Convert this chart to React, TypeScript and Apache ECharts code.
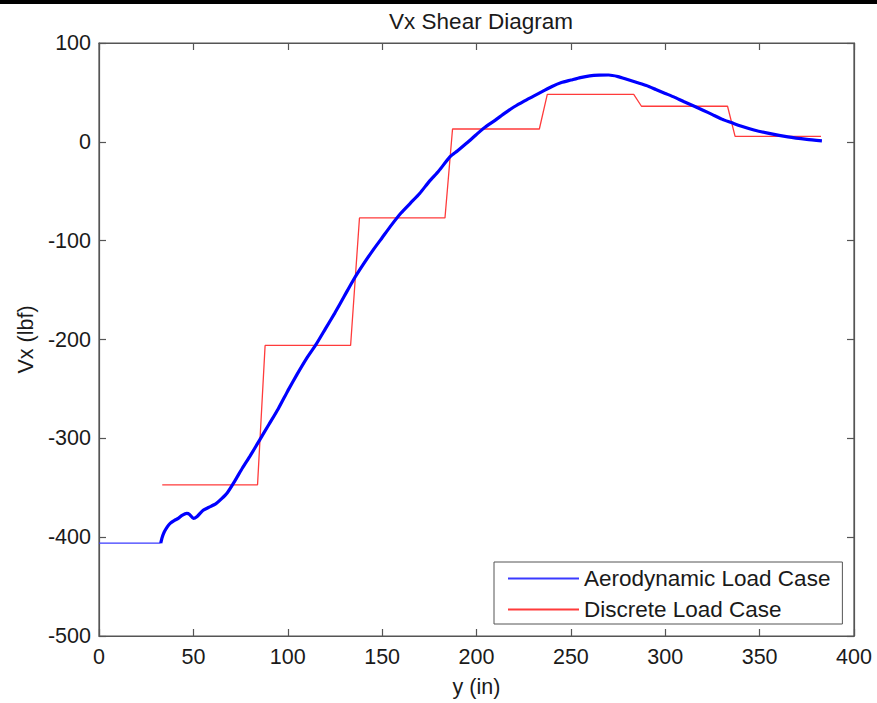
import React, { useEffect, useRef } from "react";
import * as echarts from "echarts";

const titleText = "Vx Shear Diagram";
const xAxisName = "y (in)";
const yAxisName = "Vx (lbf)";
const xTickValues = [0, 50, 100, 150, 200, 250, 300, 350, 400];
const yTickValues = [-500, -400, -300, -200, -100, 0, 100];

const aeroName = "Aerodynamic Load Case";
const discreteName = "Discrete Load Case";

// flat root segment of the aerodynamic curve
const aeroFlat: [number, number][] = [
  [0, -406],
  [32.7, -406],
];

// aerodynamic load case shear curve
const aeroCurve: [number, number][] = [
  [32.7, -406], [33.5, -400], [34.5, -395], [36, -390], [37.7, -386],
  [40, -383], [42, -381], [44, -378], [46.5, -376], [48, -377],
  [50, -381], [52, -379], [55, -373], [58, -370], [62, -366],
  [65, -361], [68, -355], [72, -343], [76, -330], [80, -318],
  [85, -302], [90, -286], [95, -270], [100, -252], [105, -235],
  [110, -219], [115, -205], [120, -189], [125, -173], [130, -156],
  [135, -139], [140, -124], [145, -110], [150, -97], [155, -84],
  [160, -72], [165, -62], [170, -52], [175, -40], [180, -29.5],
  [186, -15], [190, -9], [195, -1], [200, 7.5], [204, 14],
  [210, 22], [215, 29], [220, 35.5], [225, 41], [230, 46],
  [235, 51], [240, 56], [245, 60], [250, 62.5], [255, 65],
  [260, 66.8], [265, 67.5], [270, 67.6], [275, 66], [280, 63],
  [285, 60], [290, 57], [295, 53], [300, 49], [305, 45],
  [310, 40.5], [316, 35.5], [320, 32], [325, 27.5], [330, 23],
  [335, 19.5], [340, 16], [347, 12], [355, 8.5], [365, 5],
  [375, 2.5], [383, 1],
];

// discrete (stepped) load case
const discreteSteps: [number, number][] = [
  [33.5, -347], [84, -347], [88, -206], [133.3, -206], [138, -77],
  [183.3, -77], [187.3, 13], [233.3, 13], [237.5, 48], [283.3, 48],
  [287.4, 36], [333, 36], [337, 5.5], [382.5, 5.5],
];

const FONT = "'Liberation Sans', Arial, Helvetica, sans-serif";
const AXIS_COLOR = "#555555";
const TEXT_COLOR = "#1a1a1a";

export default function App() {
  const ref = useRef<HTMLDivElement>(null);

  useEffect(() => {
    if (!ref.current) return;
    const chart = echarts.init(ref.current, undefined, { renderer: "svg" });

    const xMin = xTickValues[0];
    const xMax = xTickValues[xTickValues.length - 1];
    const xInt = xTickValues[1] - xTickValues[0];
    const yMin = yTickValues[0];
    const yMax = yTickValues[yTickValues.length - 1];
    const yInt = yTickValues[1] - yTickValues[0];

    const baseX = {
      type: "value" as const,
      min: xMin,
      max: xMax,
      interval: xInt,
      splitLine: { show: false },
      axisLine: { show: true, onZero: false, lineStyle: { color: AXIS_COLOR, width: 1.2 } },
      axisTick: { show: true, inside: true, length: 7, lineStyle: { color: AXIS_COLOR, width: 1.2 } },
    };
    const baseY = {
      type: "value" as const,
      min: yMin,
      max: yMax,
      interval: yInt,
      splitLine: { show: false },
      axisLine: { show: true, onZero: false, lineStyle: { color: AXIS_COLOR, width: 1.2 } },
      axisTick: { show: true, inside: true, length: 7, lineStyle: { color: AXIS_COLOR, width: 1.2 } },
    };

    chart.setOption({
      animation: false,
      backgroundColor: "#ffffff",
      title: {
        text: titleText,
        left: 476,
        textAlign: "center",
        top: 5,
        textStyle: { fontSize: 22.5, fontWeight: "normal", color: TEXT_COLOR, fontFamily: FONT },
      },
      graphic: [
        {
          type: "rect",
          shape: { x: 0, y: 0, width: 877, height: 4 },
          style: { fill: "#000000" },
          silent: true,
        },
      ],
      grid: {
        left: 99,
        right: 23,
        top: 43,
        bottom: 67,
        show: true,
        borderColor: AXIS_COLOR,
        borderWidth: 1.2,
        backgroundColor: "#ffffff",
      },
      legend: {
        orient: "vertical",
        left: 494,
        top: 562,
        data: [aeroName, discreteName],
        itemWidth: 71,
        itemHeight: 14,
        itemGap: 8,
        padding: [5, 12, 3, 13],
        borderColor: AXIS_COLOR,
        borderWidth: 1,
        backgroundColor: "#ffffff",
        itemStyle: { opacity: 0 },
        textStyle: { fontSize: 22.5, color: TEXT_COLOR, fontFamily: FONT },
      },
      xAxis: [
        {
          ...baseX,
          position: "bottom",
          name: xAxisName,
          nameLocation: "middle",
          nameGap: 40,
          nameTextStyle: { fontSize: 21.5, color: TEXT_COLOR, fontFamily: FONT },
          axisLabel: { show: true, margin: 10, fontSize: 21.5, color: TEXT_COLOR, fontFamily: FONT },
        },
        {
          ...baseX,
          position: "top",
          axisLabel: { show: false },
        },
      ],
      yAxis: [
        {
          ...baseY,
          position: "left",
          name: yAxisName,
          nameLocation: "middle",
          nameGap: 62,
          nameTextStyle: { fontSize: 21.5, color: TEXT_COLOR, fontFamily: FONT },
          axisLabel: { show: true, margin: 8, fontSize: 21.5, color: TEXT_COLOR, fontFamily: FONT },
        },
        {
          ...baseY,
          position: "right",
          axisLabel: { show: false },
        },
      ],
      series: [
        {
          name: aeroName,
          type: "line",
          data: aeroFlat,
          showSymbol: false,
          symbol: "none",
          lineStyle: { color: "#3a3aff", width: 1.2 },
          itemStyle: { color: "#3a3aff" },
          z: 3,
        },
        {
          name: discreteName,
          type: "line",
          data: discreteSteps,
          showSymbol: false,
          symbol: "none",
          lineStyle: { color: "#ff3b3b", width: 1.3 },
          itemStyle: { color: "#ff3b3b" },
          z: 2,
        },
        {
          name: aeroName,
          type: "line",
          data: aeroCurve,
          showSymbol: false,
          symbol: "none",
          smooth: 0.2,
          lineStyle: { color: "#0000ff", width: 3.2 },
          itemStyle: { color: "#0000ff" },
          z: 4,
        },
      ],
    });

    return () => {
      chart.dispose();
    };
  }, []);

  return (
    <div
      ref={ref}
      style={{ position: "fixed", left: 0, top: 0, width: 877, height: 703, background: "#fff" }}
    />
  );
}
